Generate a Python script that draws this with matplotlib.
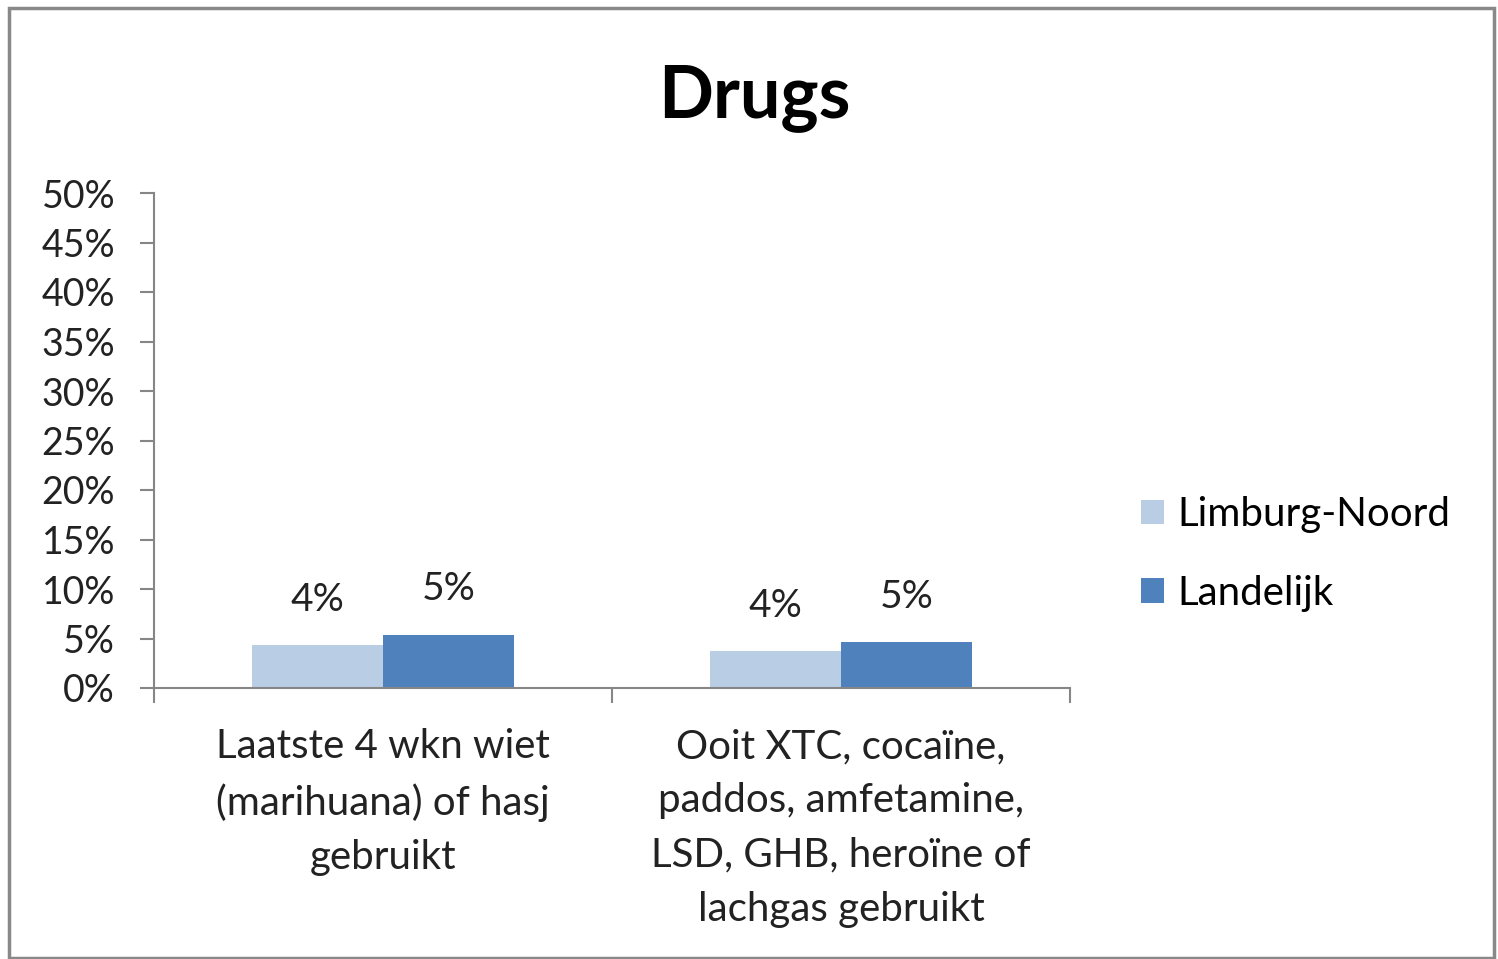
import matplotlib
matplotlib.use("Agg")
import matplotlib.pyplot as plt
from matplotlib.patches import Rectangle
import numpy as np

categories = ["Laatste 4 wkn wiet\n(marihuana) of hasj\ngebruikt",
              "Ooit XTC, cocaïne,\npaddos, amfetamine,\nLSD, GHB, heroïne of\nlachgas gebruikt"]
series_names = ["Limburg-Noord", "Landelijk"]
limburg_noord = [4.3, 3.7]
landelijk = [5.4, 4.6]
yticks = [0, 5, 10, 15, 20, 25, 30, 35, 40, 45, 50]
title = "Drugs"

colors = ["#B9CDE5", "#4F81BD"]
axis_color = "#868686"
FONT = ["Lato", "DejaVu Sans"]
plt.rcParams['font.family'] = FONT

W, H = 1498, 959
fig = plt.figure(figsize=(W / 100, H / 100), dpi=100)
fig.patch.set_facecolor("white")

# outer frame
fig.patches.append(Rectangle((9 / W, 1 / H), (1494 - 9) / W, (951 - 1) / H,
                             transform=fig.transFigure, fill=False,
                             edgecolor="#898989", linewidth=2.5))

ax = fig.add_axes([154 / W, (H - 688) / H, (1070 - 154) / W, (688 - 193) / H])

x = np.arange(len(categories))
bw = 0.286
series = [limburg_noord, landelijk]
for i, (vals, name) in enumerate(zip(series, series_names)):
    pos = x + (i - 0.5) * bw
    ax.bar(pos, vals, width=bw, color=colors[i], label=name, linewidth=0)
    for xp, v in zip(pos, vals):
        ax.annotate(f"{round(v):.0f}%", (xp, v), xytext=(0, 32.5), textcoords="offset points",
                    ha="center", va="center", fontsize=28, color="#222222")

ax.set_xlim(-0.5, len(categories) - 0.5)
ax.set_ylim(0, 50)
ax.set_yticks(yticks)
ax.set_yticklabels([f"{t}%" for t in yticks])
ax.tick_params(axis="y", direction="out", length=10, width=1.5, color=axis_color,
               labelsize=27, pad=18, labelcolor="#222222")

ax.set_xticks(x)
ax.set_xticklabels(categories, fontsize=29, linespacing=1.57, color="#222222")
ax.tick_params(axis="x", length=0, pad=29)
ax.set_xticks(np.arange(-0.5, len(categories), 1.0), minor=True)
ax.tick_params(axis="x", which="minor", direction="out", length=11, width=1.5, color=axis_color)

for s in ["top", "right"]:
    ax.spines[s].set_visible(False)
for s in ["left", "bottom"]:
    ax.spines[s].set_color(axis_color)
    ax.spines[s].set_linewidth(1.5)

fig.text(754 / W, 1 - 98 / H, title, ha="center", va="center",
         fontsize=52, fontweight="bold", color="black")

fig.legend(loc="center left", bbox_to_anchor=(1141 / W, 1 - 554 / H),
           frameon=False, fontsize=29, handlelength=0.56, handleheight=0.56,
           handletextpad=0.35, labelspacing=1.02, borderpad=0, borderaxespad=0)

fig.savefig("out.png", dpi=100, facecolor="white")
